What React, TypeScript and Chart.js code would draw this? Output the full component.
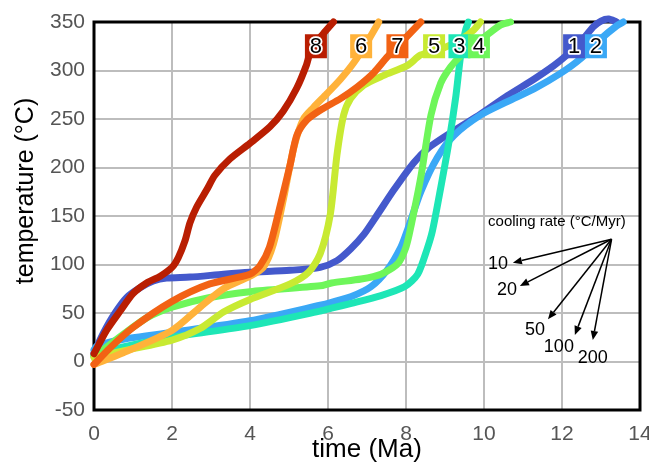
import React, { useEffect, useRef } from "react";
import { Chart, registerables } from "chart.js";

Chart.register(...registerables);

// ---- data (time in Ma, temperature in °C) ----
const curveNames = ["1", "2", "3", "4", "5", "6", "7", "8"];
const curveColors = ["#4459cc", "#3aa8f6", "#1ee6b6", "#6ef65a", "#c8ea32", "#ffb23a", "#f26214", "#b91e02"];

const c1Time = [0, 0.25, 0.54, 0.84, 1.18, 1.52, 1.86, 2.46, 3.32, 4.0, 5.03, 5.8, 6.23, 6.58, 6.92, 7.26, 7.69, 8.2, 8.6, 9.23, 9.91, 10.6, 11.28, 11.79, 12.13, 12.47, 12.8, 13.0, 13.2, 13.4];
const c1Temp = [9, 30, 50, 66, 76, 83, 86, 87, 90, 92, 94, 97, 104, 116, 131, 151, 177, 205, 221, 238, 255, 274, 291, 305, 316, 329, 345, 351, 353, 350];

const c2Time = [0, 0.07, 0.75, 2.0, 4.0, 5.8, 6.09, 6.6, 7.1, 7.53, 7.87, 8.05, 8.38, 8.8, 9.23, 9.91, 10.6, 11.28, 11.96, 12.47, 12.98, 13.4, 13.57];
const c2Temp = [12, 16, 23, 30, 42, 58, 61, 67, 77, 95, 118, 137, 175, 210, 233, 254, 268, 281, 297, 312, 332, 346, 350];

const c3Time = [0, 0.07, 0.75, 2.0, 4.0, 5.8, 6.09, 6.6, 7.36, 7.96, 8.3, 8.55, 8.68, 8.89, 9.1, 9.28, 9.4, 9.53, 9.6];
const c3Temp = [6, 8, 15, 25, 37, 52, 55, 60, 68, 77, 90, 117, 135, 179, 226, 274, 315, 342, 350];

const c4Time = [0, 0.07, 0.75, 1.35, 2.0, 2.97, 4.0, 5.8, 6.09, 6.85, 7.36, 7.79, 8.0, 8.13, 8.38, 8.64, 8.89, 9.15, 9.4, 9.74, 10.09, 10.43, 10.68];
const c4Temp = [5, 7, 28, 45, 56, 66, 72, 78, 81, 85, 90, 101, 118, 140, 190, 254, 287, 304, 315, 326, 337, 347, 350];

const c5Time = [0, 0.75, 2.0, 2.72, 3.32, 4.0, 5.03, 5.5, 5.8, 6.06, 6.23, 6.4, 6.58, 6.92, 7.43, 8.03, 8.38, 8.89, 9.4, 9.74, 9.91];
const c5Temp = [4, 11, 22, 34, 51, 64, 80, 92, 111, 152, 213, 254, 271, 285, 295, 305, 316, 322, 332, 342, 350];

const c6Time = [0, 0.75, 2.0, 2.72, 3.32, 4.0, 4.34, 4.6, 4.86, 5.12, 5.37, 5.63, 5.97, 6.32, 6.66, 7.0, 7.26, 7.3];
const c6Temp = [-3, 9, 32, 56, 75, 88, 97, 121, 168, 220, 250, 262, 276, 291, 308, 329, 347, 350];

const c7Time = [0, 0.41, 1.0, 2.0, 2.97, 4.0, 4.26, 4.5, 4.77, 5.03, 5.2, 5.46, 5.8, 6.32, 6.75, 7.18, 7.52, 7.95, 8.38];
const c7Temp = [-3, 14, 35, 62, 80, 90, 99, 118, 160, 203, 233, 249, 259, 271, 283, 298, 314, 332, 350];

const c8Time = [0, 0.32, 0.67, 1.0, 1.35, 1.7, 2.0, 2.16, 2.33, 2.46, 2.63, 2.89, 3.1, 3.49, 4.0, 4.51, 4.85, 5.2, 5.45, 5.58, 5.88, 6.14];
const c8Temp = [8, 32, 52, 70, 81, 88, 97, 107, 124, 143, 159, 177, 192, 209, 225, 242, 258, 282, 306, 323, 338, 350];

const curveTimes = [c1Time, c2Time, c3Time, c4Time, c5Time, c6Time, c7Time, c8Time];
const curveTemps = [c1Temp, c2Temp, c3Temp, c4Temp, c5Temp, c6Temp, c7Temp, c8Temp];

// curve label anchors (data coords)
const labelTime = [12.31, 12.87, 9.37, 9.87, 8.72, 6.85, 7.78, 5.69];
const labelTemp = 325;

// cooling-rate annotation
const rateTitle = "cooling rate (°C/Myr)";
const rateTitleAt = [11.87, 144];
const rateOrigin = [13.27, 126];
const rateNames = ["10", "20", "50", "100", "200"];
const rateTipTime = [10.74, 10.92, 11.64, 12.33, 12.79];
const rateTipTemp = [101.9, 77.8, 43.5, 27.3, 22.2];
const rateLabelTime = [10.36, 10.59, 11.31, 11.92, 12.79];
const rateLabelTemp = [100.5, 73.7, 32.5, 15, 3.6];

const xTicks = [0, 2, 4, 6, 8, 10, 12, 14];
const yTicks = [-50, 0, 50, 100, 150, 200, 250, 300, 350];
const xTitle = "time (Ma)";
const yTitle = "temperature (°C)";

const FONT = "'Liberation Sans', Arial, Helvetica, sans-serif";

const overlayPlugin = {
  id: "overlay",
  beforeDatasetsDraw(chart: any) {
    const { ctx, chartArea } = chart;
    ctx.save();
    ctx.strokeStyle = "#000";
    ctx.lineWidth = 3;
    ctx.strokeRect(chartArea.left, chartArea.top, chartArea.right - chartArea.left, chartArea.bottom - chartArea.top);
    ctx.restore();
  },
  afterDatasetsDraw(chart: any) {
    const { ctx } = chart;
    const xs = chart.scales.x;
    const ys = chart.scales.y;
    ctx.save();
    // y axis title
    ctx.save();
    ctx.translate(26, 191);
    ctx.rotate(-Math.PI / 2);
    ctx.font = `25px ${FONT}`;
    ctx.fillStyle = "#000";
    ctx.textAlign = "center";
    ctx.textBaseline = "middle";
    ctx.fillText(yTitle, 0, 0);
    ctx.restore();
    // curve labels
    ctx.font = `22px ${FONT}`;
    ctx.textAlign = "center";
    ctx.textBaseline = "middle";
    for (let i = 0; i < curveNames.length; i++) {
      const cx = xs.getPixelForValue(labelTime[i]);
      const cy = ys.getPixelForValue(labelTemp);
      ctx.fillStyle = curveColors[i];
      ctx.fillRect(cx - 11, cy - 12, 22, 24);
      ctx.lineJoin = "round";
      ctx.lineWidth = 3.5;
      ctx.strokeStyle = "#fff";
      ctx.strokeText(curveNames[i], cx, cy + 1);
      ctx.fillStyle = "#000";
      ctx.fillText(curveNames[i], cx, cy + 1);
    }
    // cooling rate annotation
    ctx.fillStyle = "#000";
    ctx.font = `15px ${FONT}`;
    ctx.fillText(rateTitle, xs.getPixelForValue(rateTitleAt[0]), ys.getPixelForValue(rateTitleAt[1]));
    const ox = xs.getPixelForValue(rateOrigin[0]);
    const oy = ys.getPixelForValue(rateOrigin[1]);
    ctx.strokeStyle = "#000";
    ctx.lineWidth = 1.5;
    for (let i = 0; i < rateNames.length; i++) {
      const tx = xs.getPixelForValue(rateTipTime[i]);
      const ty = ys.getPixelForValue(rateTipTemp[i]);
      const ang = Math.atan2(ty - oy, tx - ox);
      const hl = 9;
      const hw = 3.8;
      const bx = tx - hl * Math.cos(ang);
      const by = ty - hl * Math.sin(ang);
      ctx.beginPath();
      ctx.moveTo(ox, oy);
      ctx.lineTo(bx, by);
      ctx.stroke();
      ctx.beginPath();
      ctx.moveTo(tx, ty);
      ctx.lineTo(bx + hw * Math.sin(ang), by - hw * Math.cos(ang));
      ctx.lineTo(bx - hw * Math.sin(ang), by + hw * Math.cos(ang));
      ctx.closePath();
      ctx.fill();
    }
    ctx.font = `18px ${FONT}`;
    for (let i = 0; i < rateNames.length; i++) {
      ctx.fillText(rateNames[i], xs.getPixelForValue(rateLabelTime[i]), ys.getPixelForValue(rateLabelTemp[i]));
    }
    ctx.restore();
  },
};

export default function App() {
  const ref = useRef<HTMLCanvasElement | null>(null);
  useEffect(() => {
    document.body.style.margin = "0";
    const canvas = ref.current;
    if (!canvas) return;
    const datasets = curveNames.map((name, i) => ({
      label: name,
      data: curveTimes[i].map((t, j) => ({ x: t, y: curveTemps[i][j] })),
      borderColor: curveColors[i],
      backgroundColor: curveColors[i],
      borderWidth: 7,
      borderCapStyle: "round" as const,
      borderJoinStyle: "round" as const,
      pointRadius: 0,
      tension: 0.25,
      fill: false,
      clip: false as any,
      order: curveNames.length - i,
    }));
    const chart = new Chart(canvas, {
      type: "line",
      data: { datasets },
      options: {
        responsive: false,
        animation: false,
        layout: { padding: { left: 0, right: 9, top: 22, bottom: 0 } },
        plugins: { legend: { display: false }, tooltip: { enabled: false } },
        scales: {
          x: {
            type: "linear",
            min: 0,
            max: 14,
            afterBuildTicks: (s: any) => {
              s.ticks = xTicks.map((v) => ({ value: v }));
            },
            afterFit: (s: any) => {
              s.height = 53;
              s.paddingLeft = 0;
              s.paddingRight = 0;
            },
            grid: { color: "#bdbdbd", lineWidth: 2, drawTicks: false },
            border: { display: false },
            ticks: { color: "#555", font: { family: FONT, size: 21 }, padding: 12, maxRotation: 0 },
            title: { display: true, text: xTitle, color: "#000", font: { family: FONT, size: 26, lineHeight: 1 }, padding: { top: 0, bottom: 0 } },
          },
          y: {
            type: "linear",
            min: -50,
            max: 350,
            afterBuildTicks: (s: any) => {
              s.ticks = yTicks.map((v) => ({ value: v }));
            },
            afterFit: (s: any) => {
              s.width = 94;
              s.paddingTop = 0;
              s.paddingBottom = 0;
            },
            grid: { color: "#bdbdbd", lineWidth: 2, drawTicks: false },
            border: { display: false },
            ticks: { color: "#555", font: { family: FONT, size: 21 }, padding: 9 },
            title: { display: false },
          },
        },
      },
      plugins: [overlayPlugin],
    });
    return () => chart.destroy();
  }, []);
  return (
    <div style={{ position: "fixed", left: 0, top: 0, width: 649, height: 463, background: "#fff" }}>
      <canvas ref={ref} width={649} height={463} style={{ display: "block" }} />
    </div>
  );
}
